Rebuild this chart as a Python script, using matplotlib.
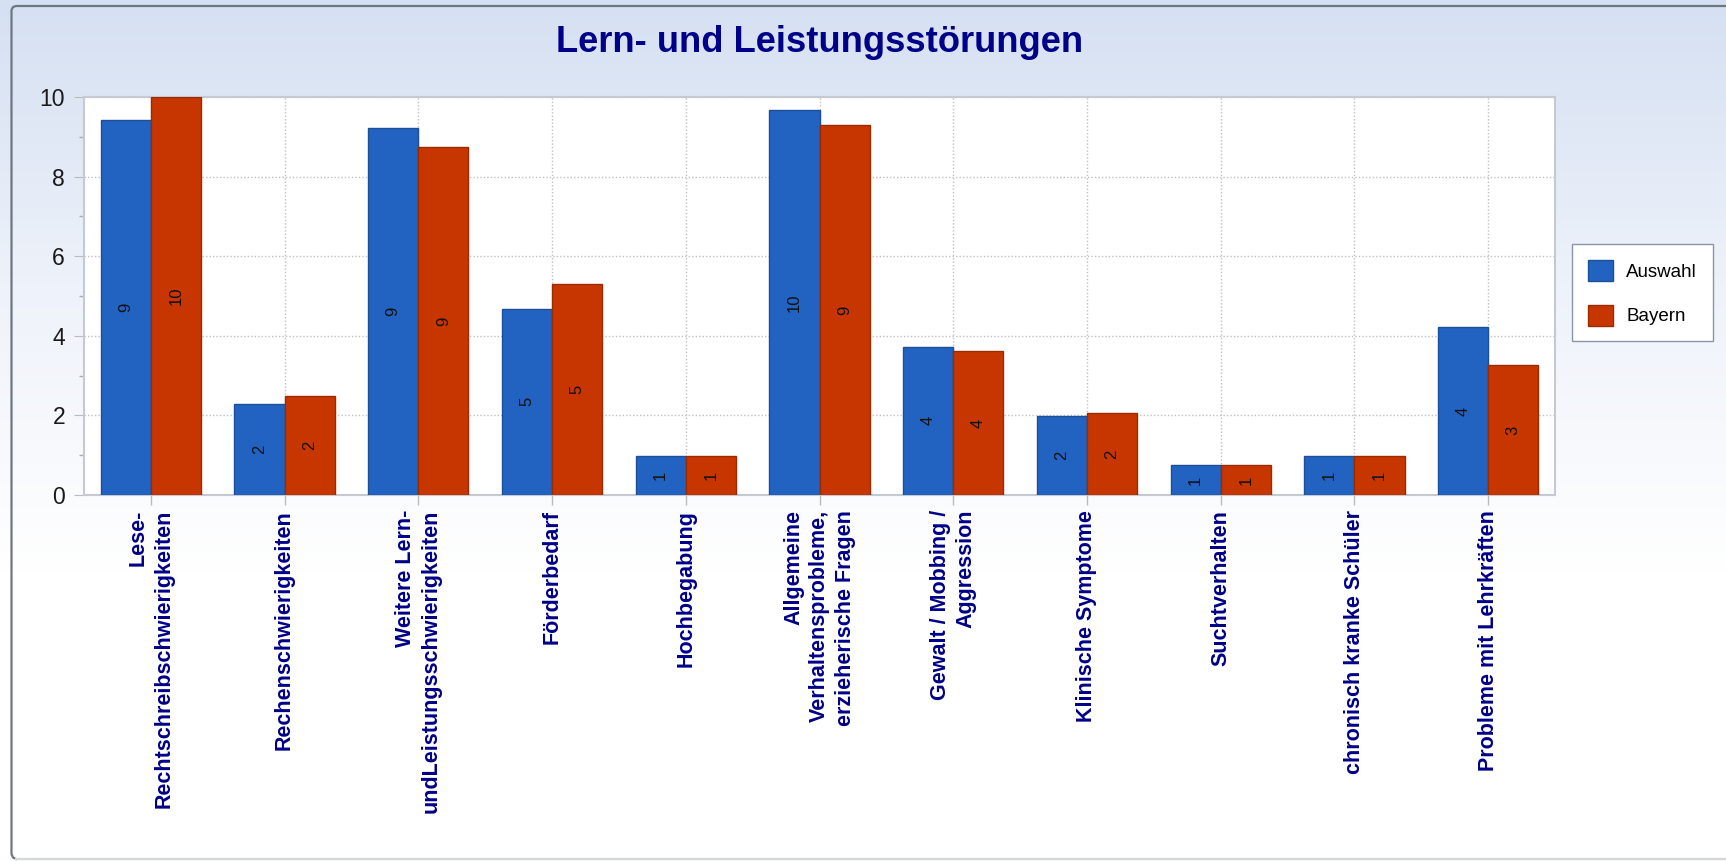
import numpy as np
import matplotlib
matplotlib.use("Agg")
import matplotlib.pyplot as plt
from matplotlib.lines import Line2D
from matplotlib.colors import LinearSegmentedColormap

plt.rcParams['font.family'] = ['Liberation Sans', 'DejaVu Sans']

title = "Lern- und Leistungsstörungen"
categories = [
    "Lese-\nRechtschreibschwierigkeiten",
    "Rechenschwierigkeiten",
    "Weitere Lern-\nundLeistungsschwierigkeiten",
    "Förderbedarf",
    "Hochbegabung",
    "Allgemeine\nVerhaltensprobleme,\nerzieherische Fragen",
    "Gewalt / Mobbing /\nAggression",
    "Klinische Symptome",
    "Suchtverhalten",
    "chronisch kranke Schüler",
    "Probleme mit Lehrkräften",
]
series_names = ["Auswahl", "Bayern"]
auswahl = [9.41, 2.28, 9.22, 4.68, 0.97, 9.67, 3.73, 1.98, 0.75, 0.97, 4.21]
bayern = [10.0, 2.48, 8.75, 5.29, 0.97, 9.30, 3.62, 2.06, 0.75, 0.97, 3.26]
yticks = [0, 2, 4, 6, 8, 10]

W, H = 1726, 861
PX = 72 / 100  # points per pixel
fig = plt.figure(figsize=(W / 100, H / 100), dpi=100)

# background gradient
bg = fig.add_axes([0, 0, 1, 1], zorder=-10)
bg.set_axis_off()
cmap = LinearSegmentedColormap.from_list("g", ["#d5e0f2", "#eef2fa", "#ffffff", "#ffffff"])
grad = np.linspace(0, 1, 256).reshape(-1, 1)
bg.imshow(grad, aspect="auto", cmap=cmap, extent=[0, 1, 0, 1], origin="upper")
bg.set_xlim(0, 1)
bg.set_ylim(0, 1)


def fx(px):
    return px / W


def fy(py):
    return 1 - py / H


dark = [(W - 1, 6), (16, 6), (13, 7), (11.5, 10), (11.5, 854), (13, 857.5), (16, 859)]
fig.add_artist(Line2D([fx(p[0]) for p in dark], [fy(p[1]) for p in dark],
                      color="#6e7682", linewidth=1.6, transform=fig.transFigure))
fig.add_artist(Line2D([fx(16), fx(W - 1)], [fy(859), fy(859)],
                      color="#d2d6da", linewidth=1.6, transform=fig.transFigure))

ax_left, ax_right = 84 / W, 1555 / W
ax_bottom, ax_top = 1 - 495 / H, 1 - 97 / H
ax = fig.add_axes([ax_left, ax_bottom, ax_right - ax_left, ax_top - ax_bottom])
ax.set_facecolor("white")

x = np.arange(len(categories))
bw = 0.375
blue, red = "#2262c0", "#c83600"
b1 = ax.bar(x - bw / 2, auswahl, bw, color=blue, edgecolor="#1c4f98", linewidth=1.0, label=series_names[0], zorder=3)
b2 = ax.bar(x + bw / 2, bayern, bw, color=red, edgecolor="#9a2a00", linewidth=1.0, label=series_names[1], zorder=3)
for bars in (b1, b2):
    ax.bar_label(bars, labels=[f"{round(v):d}" for v in bars.datavalues],
                 label_type="center", rotation=90, fontsize=12, color="#111111")

ax.set_xlim(-0.5, len(categories) - 0.5)
ax.set_ylim(0, 10)
ax.set_yticks(yticks)
ax.set_yticks([1, 3, 5, 7, 9], minor=True)
ax.set_xticks(x)
ax.set_xticklabels(categories, rotation=90, ha="center", va="top",
                   multialignment="right", fontsize=15.5, fontweight="bold",
                   color="#000088", linespacing=1.3)
ax.tick_params(axis="x", length=10 * PX, color="#bbbbbb", pad=5 * PX, width=1)
ax.tick_params(axis="y", which="major", length=10 * PX, color="#bbbbbb", pad=9 * PX,
               labelsize=16.5, labelcolor="#1a1a1a")
ax.tick_params(axis="y", which="minor", length=5 * PX, color="#aaaaaa", width=1)
for t in ax.xaxis.get_major_ticks() + ax.yaxis.get_major_ticks():
    t.tick1line.set_linestyle((0, (1, 1.5)))
ax.grid(True, which="major", linestyle=(0, (1, 1.5)), color="#c0c0c0", linewidth=1, zorder=0)
for s in ax.spines.values():
    s.set_color("#c5cad0")
    s.set_linewidth(1.5)

fig.text((ax_left + ax_right) / 2, 1 - 43 / H, title, ha="center", va="center",
         fontsize=26.2, fontweight="bold", color="#000088")

fig.legend(handles=[b1, b2], labels=series_names, loc="upper left",
           bbox_to_anchor=(1572 / W, 1 - 244 / H), borderaxespad=0,
           fontsize=13.5, frameon=True, fancybox=False, edgecolor="#8a96a6",
           framealpha=1, handlelength=1.33, handleheight=1.33,
           handletextpad=0.7, labelspacing=1.28, borderpad=0.85)

fig.savefig("out.png", dpi=100)
